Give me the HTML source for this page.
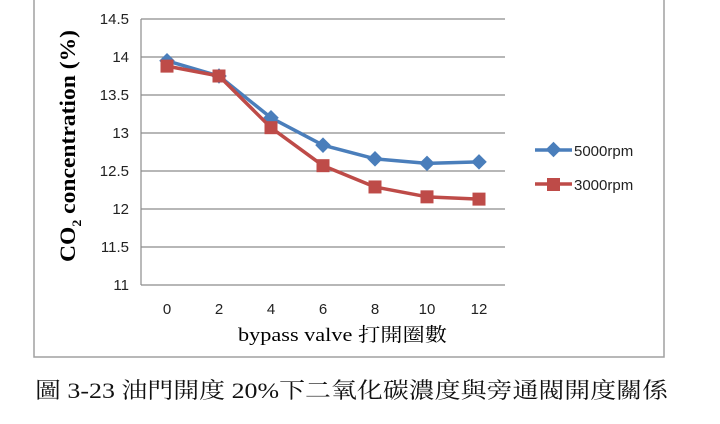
<!DOCTYPE html>
<html><head><meta charset="utf-8"><style>
html,body{margin:0;padding:0;background:#fff;width:720px;height:424px;overflow:hidden}
svg text{font-family:"Liberation Sans","Noto Sans CJK TC",sans-serif}
</style></head><body>
<svg id="c" width="720" height="424">
  <rect x="34" y="-2" width="630" height="359" fill="#fff" stroke="#a0a0a0" stroke-width="1.5"/>
  <g id="grid"></g>
  <g id="axes"></g>
  <g id="series"></g>
  <text x="75" y="146" transform="rotate(-90 75 146)" text-anchor="middle" font-weight="bold" font-size="22" textLength="232" lengthAdjust="spacingAndGlyphs" style="font-family:'Liberation Serif',serif">CO<tspan font-size="13" dy="6">2</tspan><tspan dy="-6"> concentration (%)</tspan></text>
  <text x="238" y="341" font-size="19" textLength="209" lengthAdjust="spacingAndGlyphs" style="font-family:'Liberation Serif','Noto Serif CJK SC',serif">bypass valve 打開圈數</text>
  <g>
    <line x1="535" y1="150" x2="572" y2="150" stroke="#4a7ebb" stroke-width="3.5"/>
    <rect x="548" y="144" width="11" height="11" fill="#4a7ebb" transform="rotate(45 553.5 149.5)"/>
    <text x="574" y="156" font-size="15" fill="#222">5000rpm</text>
    <line x1="535" y1="184" x2="572" y2="184" stroke="#be4b48" stroke-width="3.5"/>
    <rect x="547" y="178" width="13" height="13" fill="#be4b48"/>
    <text x="574" y="190" font-size="15" fill="#222">3000rpm</text>
  </g>
  <text x="35" y="398" font-size="22" fill="#111" textLength="633" lengthAdjust="spacingAndGlyphs" style="font-family:'Liberation Serif','Noto Serif CJK SC',serif">圖 3-23 油門開度 20%下二氧化碳濃度與旁通閥開度關係</text>
</svg>
<script>
const categories=[0,2,4,6,8,10,12];
const rpm5000=[13.95,13.75,13.2,12.84,12.66,12.6,12.62];
const rpm3000=[13.88,13.75,13.07,12.57,12.29,12.16,12.13];
const yTicks=[11,11.5,12,12.5,13,13.5,14,14.5];
const NS="http://www.w3.org/2000/svg";
const L=141,R=505,T=19,B=285,yMin=11,yMax=14.5;
const band=(R-L)/categories.length;
const xs=i=>L+band*(i+0.5);
const ys=v=>B-(v-yMin)/(yMax-yMin)*(B-T);
function mk(tag,attrs,parent){const e=document.createElementNS(NS,tag);for(const k in attrs)e.setAttribute(k,attrs[k]);parent.appendChild(e);return e;}
const grid=document.getElementById('grid'),axes=document.getElementById('axes'),ser=document.getElementById('series');
yTicks.forEach(t=>{
  const ln=mk('line',{x1:L,x2:R,y1:ys(t),y2:ys(t),stroke:'#8c8c8c','stroke-width':1.2},grid);
  
  
  const tx=mk('text',{x:L-12,y:ys(t)+5,'text-anchor':'end','font-size':15,fill:'#222'},axes);
  tx.textContent=t;
  
  
});
const ax=mk('line',{x1:L,x2:L,y1:T,y2:B,stroke:'#8c8c8c','stroke-width':1.2},axes);


categories.forEach((c,i)=>{
  const tx=mk('text',{x:xs(i),y:314,'text-anchor':'middle','font-size':15,fill:'#222'},axes);
  tx.textContent=c;
  
  
});
function draw(vals,color,shape,name){
  const pl=mk('polyline',{points:vals.map((v,i)=>xs(i)+','+ys(v)).join(' '),fill:'none',stroke:color,'stroke-width':3.5,'stroke-linejoin':'round'},ser);
  
  
  vals.forEach((v,i)=>{
    const x=xs(i),y=ys(v);let m;
    if(shape==='d'){m=mk('rect',{x:x-5.5,y:y-5.5,width:11,height:11,fill:color,transform:`rotate(45 ${x} ${y})`},ser);}
    else{m=mk('rect',{x:x-6.5,y:y-6.5,width:13,height:13,fill:color},ser);}
    
    
  });
}
draw(rpm5000,'#4a7ebb','d','series-5000rpm');
draw(rpm3000,'#be4b48','s','series-3000rpm');
</script>
</body></html>
